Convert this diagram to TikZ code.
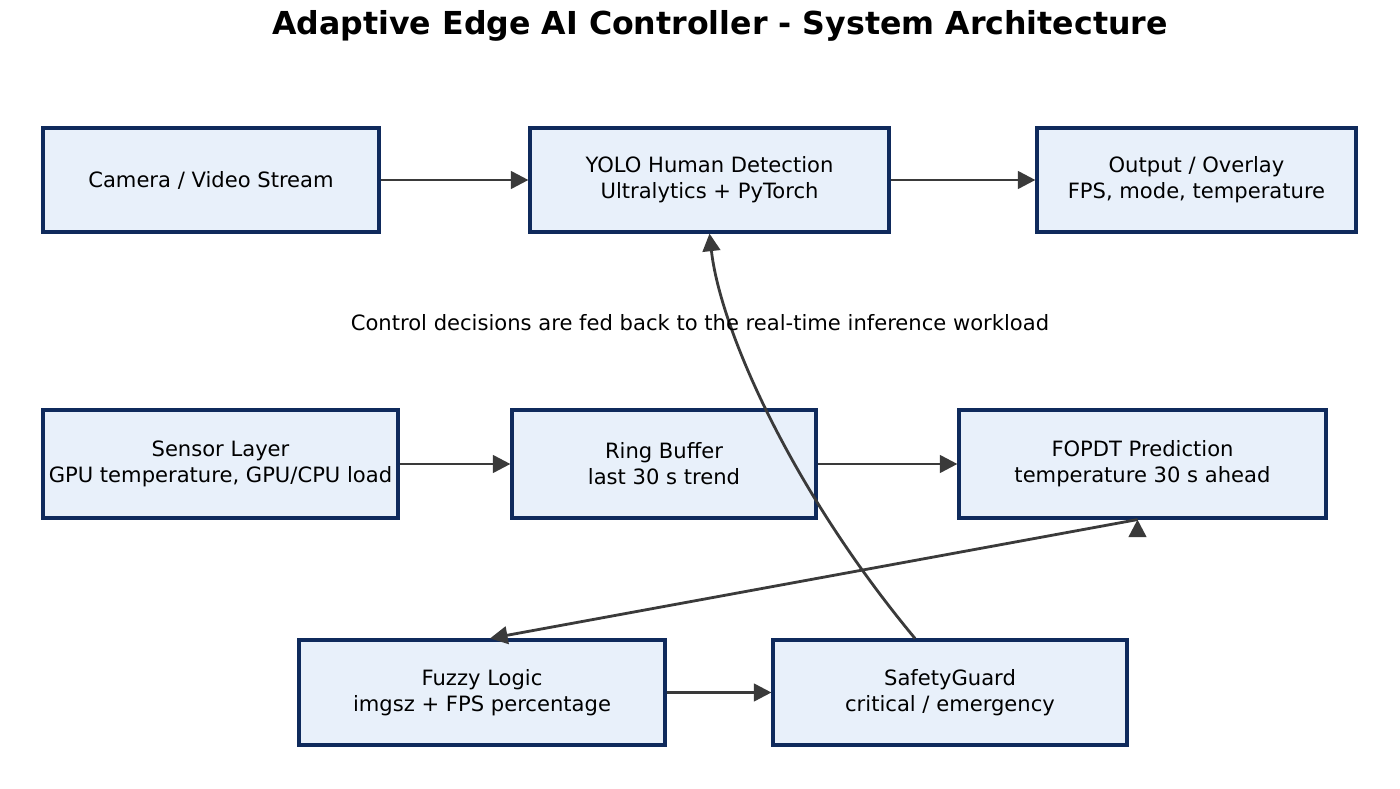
\documentclass[tikz,border=0pt]{standalone}
\usepackage{fontspec}
\setmainfont{DejaVu Sans}
\usetikzlibrary{arrows.meta}
\definecolor{boxfill}{HTML}{E8F0FA}
\definecolor{boxline}{HTML}{0F2A5C}
\definecolor{arrowc}{HTML}{3A3A3A}
\tikzset{
  block/.style={draw=boxline, line width=0.9pt, fill=boxfill, minimum height=1.04cm,
    align=center, font=\fontsize{6pt}{7.4pt}\selectfont, inner sep=0pt},
  flow/.style={-{Triangle[length=5pt,width=5pt]}, draw=arrowc, line width=0.8pt}
}
\begin{document}
\begin{tikzpicture}
      \useasboundingbox (0,0) rectangle (14,7.88);
      \node [font=\bfseries\fontsize{9pt}{11pt}\selectfont] (title) at (7.2,7.62) {Adaptive Edge AI Controller - System Architecture};

      % top row
      \node [block, minimum width=3.36cm] (cam) at (2.11,6.08) {Camera / Video Stream};
      \node [block, minimum width=3.59cm] (yolo) at (7.095,6.08) {YOLO Human Detection\\Ultralytics + PyTorch};
      \node [block, minimum width=3.19cm] (out) at (11.965,6.08) {Output / Overlay\\FPS, mode, temperature};

      % middle row
      \node [block, minimum width=3.55cm, minimum height=1.08cm] (sens) at (2.205,3.24) {Sensor Layer\\GPU temperature, GPU/CPU load};
      \node [block, minimum width=3.04cm, minimum height=1.08cm] (ring) at (6.64,3.24) {Ring Buffer\\last 30 s trend};
      \node [block, minimum width=3.67cm, minimum height=1.08cm] (pred) at (11.425,3.24) {FOPDT Prediction\\temperature 30 s ahead};

      % bottom row
      \node [block, minimum width=3.66cm, minimum height=1.05cm] (fuzzy) at (4.82,0.955) {Fuzzy Logic\\imgsz + FPS percentage};
      \node [block, minimum width=3.54cm, minimum height=1.05cm] (safe) at (9.50,0.955) {SafetyGuard\\critical / emergency};

      \draw [flow] (cam) -- (yolo);
      \draw [flow] (yolo) -- (out);
      \draw [flow] (sens) -- (ring);
      \draw [flow] (ring) -- (pred);
      \draw [flow] (pred.south) ++(-0.05,0) coordinate (pd) ;
      \draw [flow] (pd) -- ([xshift=0.08cm]fuzzy.north);
      \draw [flow] (fuzzy) -- (safe);
      \draw [flow] ([xshift=-0.35cm]safe.north) .. controls (7.9,3.0) and (7.2,4.6) .. (yolo.south);

      \node [font=\fontsize{6pt}{7.4pt}\selectfont] (fb) at (7.0,4.65) {Control decisions are fed back to the real-time inference workload};
\end{tikzpicture}
\end{document}
